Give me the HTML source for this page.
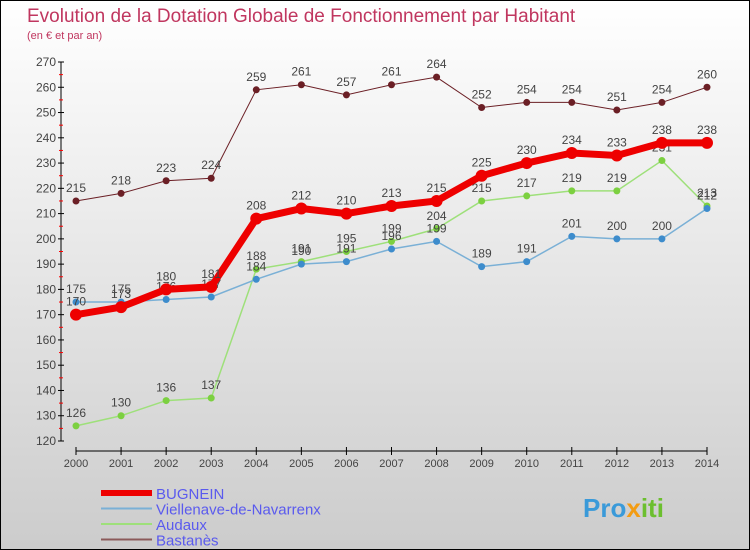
<!DOCTYPE html>
<html><head><meta charset="utf-8"><style>
body{margin:0}
#c{width:748px;height:548px;border:1px solid #000;background:linear-gradient(#fff,#ccc);position:relative;font-family:"Liberation Sans",sans-serif;overflow:hidden}
</style></head><body>
<div id="c">
<svg id="s" width="748" height="548" xmlns="http://www.w3.org/2000/svg">
<text x="26" y="21" font-size="19" fill="#c0365f">Evolution de la Dotation Globale de Fonctionnement par Habitant</text>
<text x="26" y="38" font-size="11" fill="#c0365f">(en € et par an)</text>
<g id="axes"></g><g id="series"></g><g id="legend"></g>
<text x="582" y="516" font-size="26" font-weight="bold" fill="#3a9ad9">Pro<tspan fill="#f39c12">x</tspan><tspan fill="#6cbf2f">iti</tspan></text>
</svg></div>
<script>
const years=[2000,2001,2002,2003,2004,2005,2006,2007,2008,2009,2010,2011,2012,2013,2014];
const yTicks=[120,130,140,150,160,170,180,190,200,210,220,230,240,250,260,270];
const bugnein=[170,173,180,181,208,212,210,213,215,225,230,234,233,238,238];
const viellenave=[175,175,176,177,184,190,191,196,199,189,191,201,200,200,212];
const audaux=[126,130,136,137,188,191,195,199,204,215,217,219,219,231,213];
const bastanes=[215,218,223,224,259,261,257,261,264,252,254,254,251,254,260];
const NS='http://www.w3.org/2000/svg';
const X=i=>75+i*(706-75)/(years.length-1);
const Y=v=>440-(v-120)*(440-61)/150;
function mk(t,a,p){const e=document.createElementNS(NS,t);for(const k in a)e.setAttribute(k,a[k]);p.appendChild(e);return e;}
const ax=document.getElementById('axes');
mk('line',{x1:60,y1:61,x2:60,y2:440,stroke:'#000'},ax);
mk('line',{x1:75,y1:450,x2:706,y2:450,stroke:'#000'},ax);
yTicks.forEach(v=>{
 mk('line',{x1:57,y1:Y(v),x2:63,y2:Y(v),stroke:'#000'},ax);
 if(v<270)mk('line',{x1:58,y1:Y(v+5),x2:62,y2:Y(v+5),stroke:'#f00'},ax);
 const t=mk('text',{x:55,y:Y(v)+4,'font-size':12,'text-anchor':'end',fill:'#444'},ax);
 
 
 t.textContent=v;
});
years.forEach((y,i)=>{
 mk('line',{x1:X(i),y1:446,x2:X(i),y2:454,stroke:'#000'},ax);
 const t=mk('text',{x:X(i),y:466,'font-size':11,'text-anchor':'middle',fill:'#444'},ax);
 
 
 t.textContent=y;
});
const S=[
 {n:'bastanes',d:bastanes,c:'#6b1f25',w:1,r:3.5},
 {n:'audaux',d:audaux,c:'#9ee07a',w:1.5,r:3.5,f:'#7cd040'},
 {n:'viellenave',d:viellenave,c:'#7ab0d6',w:1.5,r:3.5,f:'#3d8ccc'},
 {n:'bugnein',d:bugnein,c:'#ee0000',w:7,r:6}
];
const sg=document.getElementById('series');
S.forEach(s=>{
 const g=mk('g',{},sg);
 
 
 const p=mk('polyline',{points:s.d.map((v,i)=>X(i)+','+Y(v)).join(' '),fill:'none',stroke:s.c,'stroke-width':s.w},g);
 
 
 s.d.forEach((v,i)=>{
  const c=mk('circle',{cx:X(i),cy:Y(v),r:s.r,fill:s.f||s.c},g);
  
  
  const t=mk('text',{x:X(i),y:Y(v)-9,'font-size':12,'text-anchor':'middle',fill:'#444'},g);
  
  
  t.textContent=v;
 });
});
const lg=document.getElementById('legend');
const L=[['BUGNEIN','#ee0000',6],['Viellenave-de-Navarrenx','#7ab0d6',2],['Audaux','#9ee07a',2],['Bastanès','#8b5a5a',2]];
L.forEach((l,i)=>{
 const y=492+i*15.5;
 const ln=mk('line',{x1:100,y1:y,x2:151,y2:y,stroke:l[1],'stroke-width':l[2]},lg);
 
 
 const t=mk('text',{x:155,y:y+6,'font-size':15,fill:'#5a5aee'},lg);
 
 
 t.textContent=l[0];
});
</script>
</body></html>
